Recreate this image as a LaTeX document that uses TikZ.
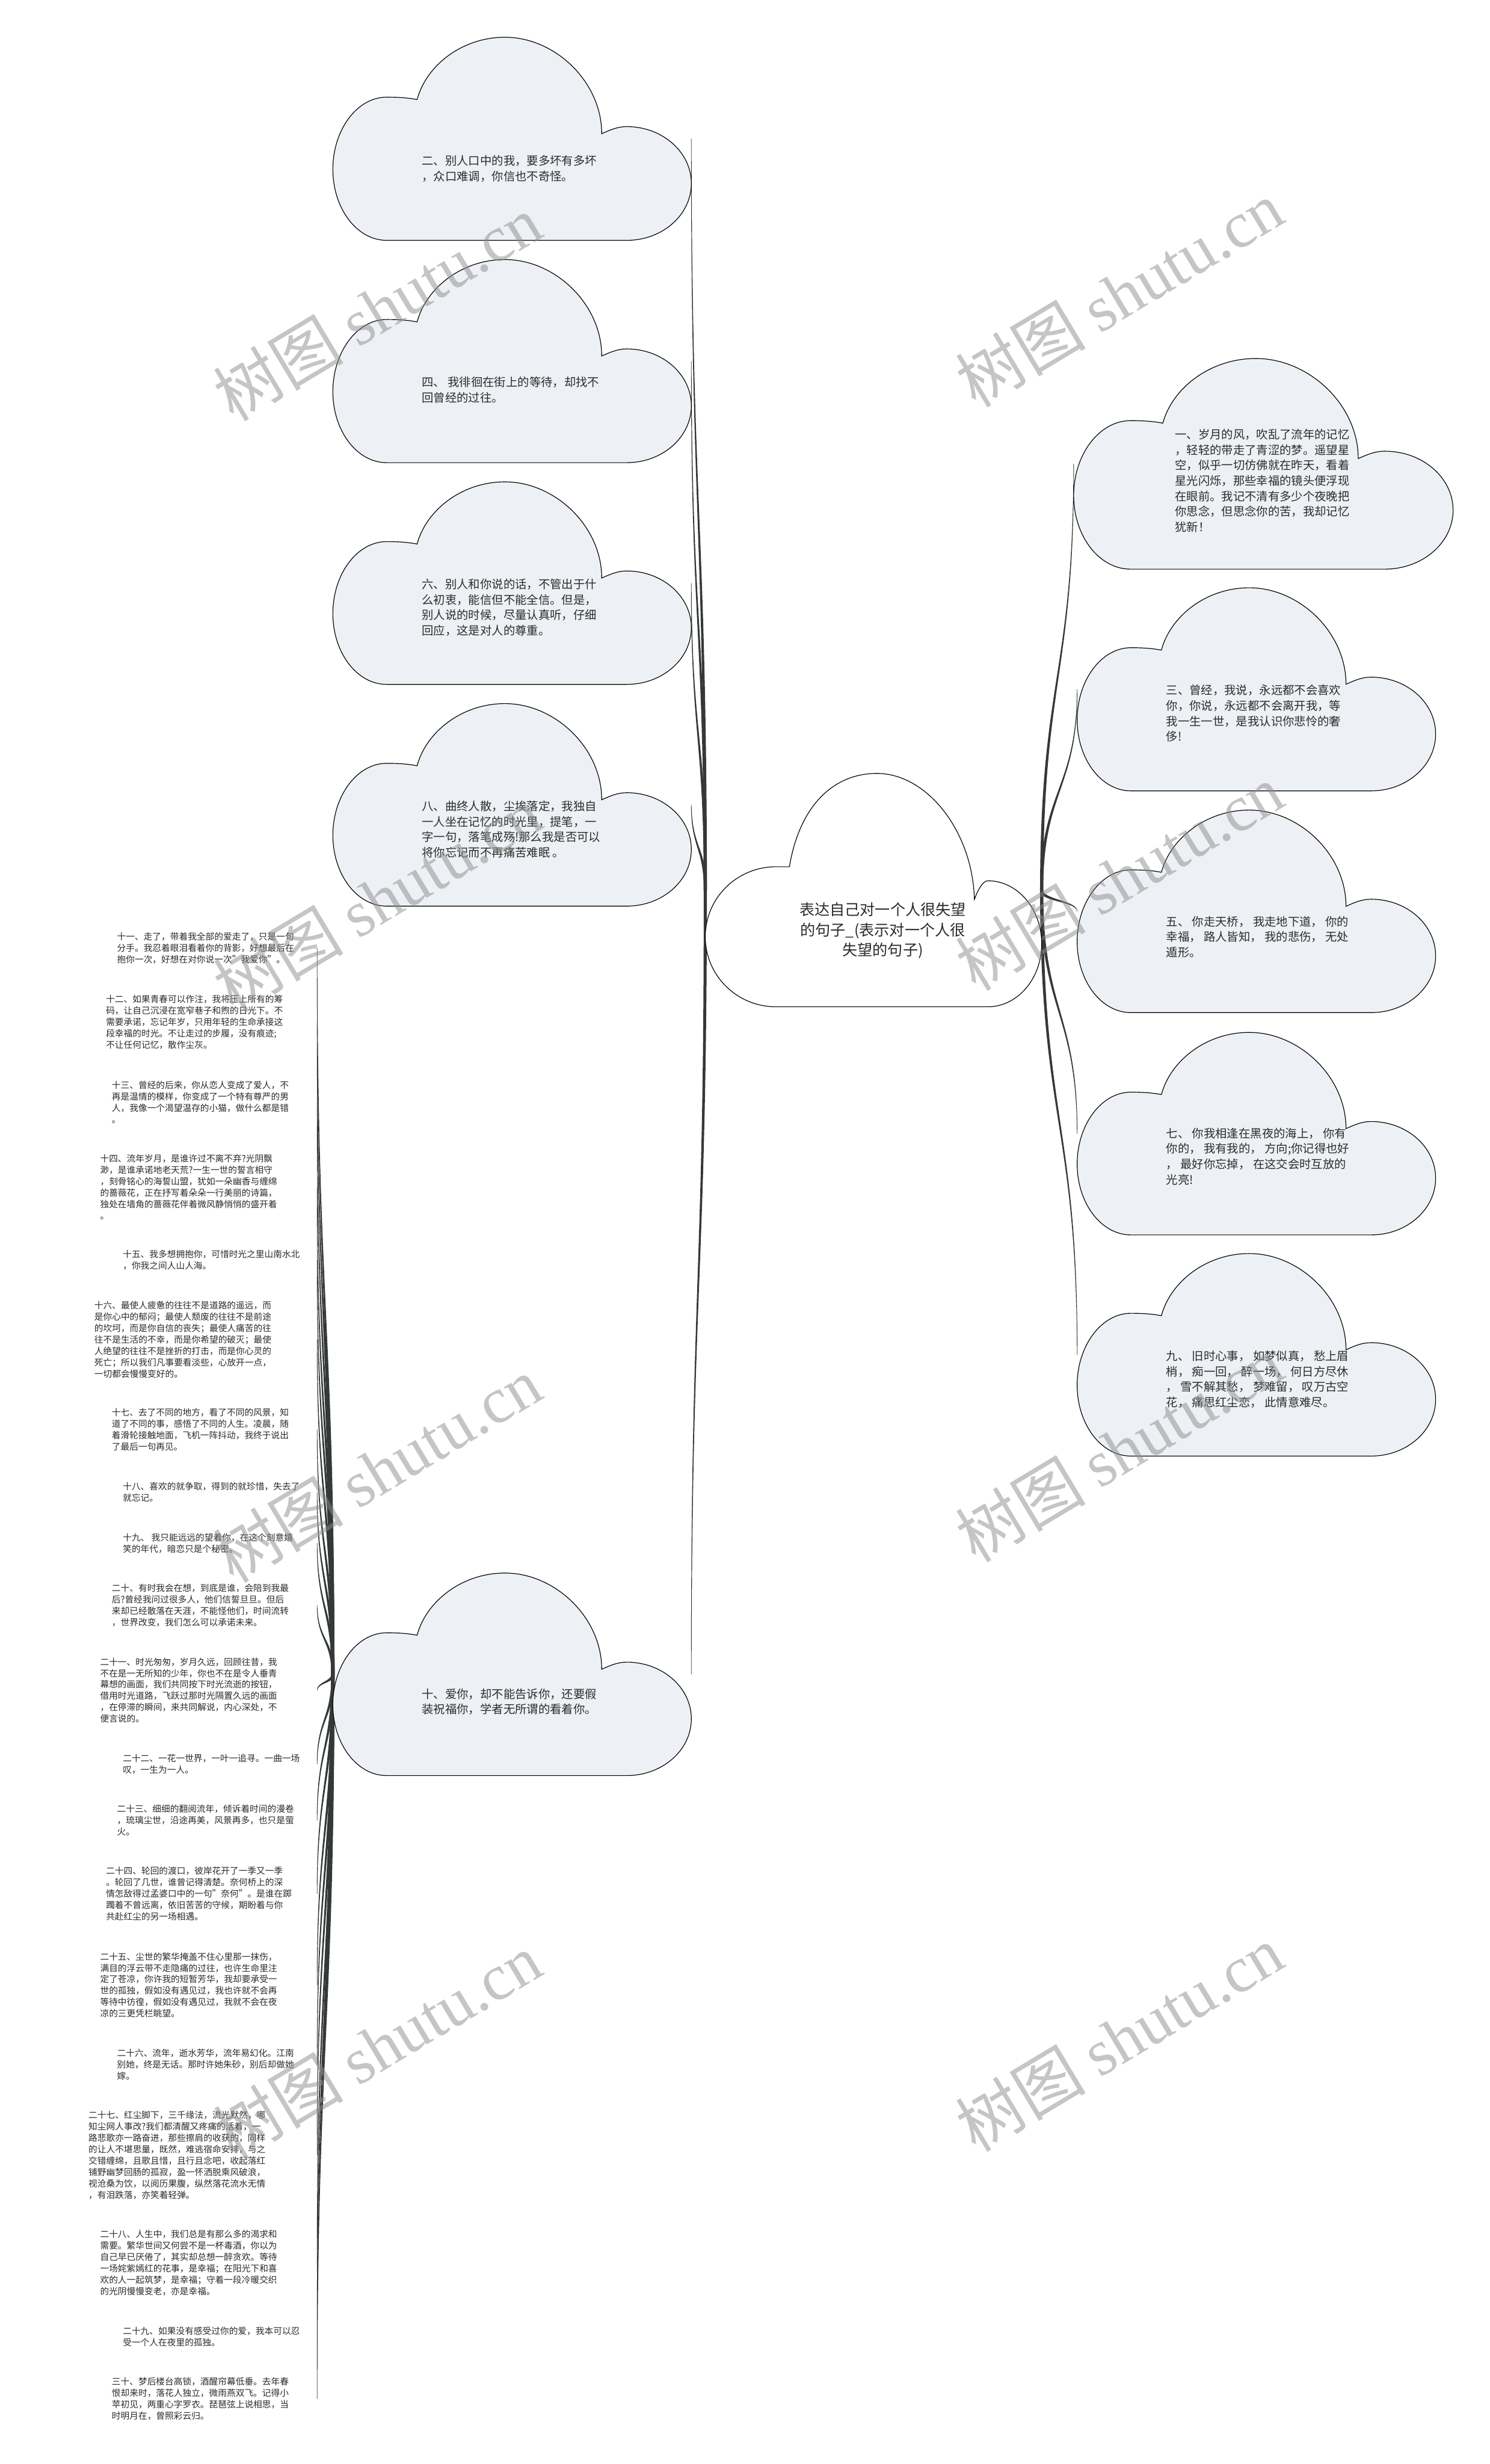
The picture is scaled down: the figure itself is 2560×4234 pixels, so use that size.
\documentclass[tikz,border=0pt]{standalone}
\usepackage{fontspec}
\setmainfont{Noto Sans CJK SC}
\newfontfamily\wmserif{Liberation Serif}
\usetikzlibrary{calc}
\definecolor{cloudfill}{HTML}{EDF0F4}
\definecolor{linkc}{HTML}{343936}
\definecolor{txt}{HTML}{2B2B2B}
\definecolor{wmg}{HTML}{8C8C8C}
\pgfdeclarelayer{bg}
\pgfsetlayers{bg,main}

% small cloud outline: name, x0, y0, W, H
\newcommand\smallcloud[5]{%
  \begin{scope}[shift={(#2,#3)},xscale=#4,yscale=#5]
    \filldraw[cloudline,fill=cloudfill] (0.15,1) .. controls (0.067,1) and (0,0.843) .. (0,0.65)
      .. controls (0,0.457) and (0.067,0.295) .. (0.15,0.295)
      .. controls (0.19,0.295) and (0.215,0.30) .. (0.235,0.307)
      .. controls (0.26,0.14) and (0.36,0) .. (0.48,0)
      .. controls (0.62,0) and (0.75,0.22) .. (0.75,0.475)
      .. controls (0.775,0.455) and (0.795,0.44) .. (0.82,0.44)
      .. controls (0.919,0.44) and (1,0.565) .. (1,0.72)
      .. controls (1,0.875) and (0.919,1) .. (0.82,1) -- cycle;
  \end{scope}
  \coordinate (#1-w) at (#2,{#3+#5/2});
  \coordinate (#1-e) at ({#2+#4},{#3+#5/2});
}

% tapered connector from parent #1 to child #2
\newcommand\brush[2]{%
  \begin{pgfonlayer}{bg}
  \fill[linkc] let \p1=(#1), \p2=(#2), \p3=($(#1)!0.5!(#2)$),
      \n1={atan2(\y2-\y1,\x2-\x1)+90}, \n2={\n1+180} in
    ($(\x1,\y1)+(\n1:2.8pt)$) .. controls ($(\x1,\y3)+(\n1:2pt)$) and ($(\x2,\y3)+(\n1:1.1pt)$) .. ($(\x2,\y2)+(\n1:0.4pt)$)
    -- ($(\x2,\y2)+(\n2:0.4pt)$) .. controls ($(\x2,\y3)+(\n2:1.1pt)$) and ($(\x1,\y3)+(\n2:2pt)$) .. ($(\x1,\y1)+(\n2:2.8pt)$) -- cycle;
  \end{pgfonlayer}
}

% leaf text: id, x, y, text
\newcommand\leaf[4]{%
  \node[leaftext] (t#1) at (#2,#3) {#4};
  \coordinate (e#1) at (545,#3);
  \brush{c10-w}{e#1}
}

\begin{document}
\begin{tikzpicture}[x=1pt,y=-1pt,
  cloudline/.style={draw=black,line width=1.2pt},
  cloudtext/.style={font=\fontsize{20}{26.5}\selectfont,text=txt,align=left,inner sep=0pt,anchor=west},
  roottext/.style={font=\fontsize{26}{34.5}\selectfont,text=txt,align=center,inner sep=0pt},
  leaftext/.style={font=\fontsize{15.2}{19.6}\selectfont,text=txt,align=left,inner sep=0pt,anchor=west},
  wmark/.style={font=\fontsize{112}{112}\selectfont,text=wmg,text opacity=0.5,rotate=31,inner sep=0pt}]
\begin{pgfonlayer}{bg}
\fill[white] (0,0) rectangle (2560,4234);
\end{pgfonlayer}
\useasboundingbox (0,0) rectangle (2560,4234);

% ---------- root cloud ----------
\begin{scope}[shift={(1212,1329)},xscale=578,yscale=401]
  \filldraw[cloudline,fill=white] (0.21,1) .. controls (0.094,1) and (0,0.866) .. (0,0.70)
    .. controls (0,0.534) and (0.094,0.40) .. (0.21,0.40)
    .. controls (0.225,0.40) and (0.24,0.40) .. (0.25,0.40)
    .. controls (0.28,0.14) and (0.38,0) .. (0.51,0)
    .. controls (0.66,0) and (0.795,0.25) .. (0.80,0.54)
    .. controls (0.81,0.50) and (0.825,0.46) .. (0.84,0.46)
    .. controls (0.928,0.46) and (1,0.58) .. (1,0.73)
    .. controls (1,0.88) and (0.928,1) .. (0.84,1) -- cycle;
\end{scope}
\coordinate (root-w) at (1212,1530);
\coordinate (root-e) at (1790,1530);
\node[roottext] (root) at (1517,1599) {表达自己对一个人很失望\\的句子\_(表示对一个人很\\失望的句子)};

% ---------- left clouds ----------
\smallcloud{c2}{572}{64}{616}{349}
\node[cloudtext] (t2) at (725,290) {二、别人口中的我，要多坏有多坏\\，众口难调，你信也不奇怪。};
\smallcloud{c4}{572}{446}{616}{349}
\node[cloudtext] (t4) at (725,670) {四、 我徘徊在街上的等待，却找不\\回曾经的过往。};
\smallcloud{c6}{572}{828}{616}{348}
\node[cloudtext] (t6) at (725,1044) {六、别人和你说的话，不管出于什\\么初衷，能信但不能全信。但是，\\别人说的时候，尽量认真听，仔细\\回应，这是对人的尊重。};
\smallcloud{c8}{572}{1209}{616}{348}
\node[cloudtext] (t8) at (725,1425) {八、曲终人散，尘埃落定，我独自\\一人坐在记忆的时光里，提笔，一\\字一句，落笔成殇!那么我是否可以\\将你忘记而不再痛苦难眠 。};
\smallcloud{c10}{572}{2703}{616}{348}
\node[cloudtext] (t10) at (725,2924) {十、爱你，却不能告诉你，还要假\\装祝福你，学者无所谓的看着你。};

% ---------- right clouds ----------
\smallcloud{c1}{1845}{616}{652}{362}
\node[cloudtext] (t1) at (2019,826) {一、岁月的风，吹乱了流年的记忆\\，轻轻的带走了青涩的梦。遥望星\\空，似乎一切仿佛就在昨天，看着\\星光闪烁，那些幸福的镜头便浮现\\在眼前。我记不清有多少个夜晚把\\你思念，但思念你的苦，我却记忆\\犹新！};
\smallcloud{c3}{1851}{1010}{616}{349}
\node[cloudtext] (t3) at (2004,1226) {三、曾经，我说，永远都不会喜欢\\你，你说，永远都不会离开我，等\\我一生一世，是我认识你悲怜的奢\\侈!};
\smallcloud{c5}{1851}{1392}{616}{348}
\node[cloudtext] (t5) at (2004,1610) {五、 你走天桥， 我走地下道， 你的\\幸福， 路人皆知， 我的悲伤， 无处\\遁形。};
\smallcloud{c7}{1851}{1774}{616}{348}
\node[cloudtext] (t7) at (2004,1987) {七、 你我相逢在黑夜的海上， 你有\\你的， 我有我的， 方向;你记得也好\\， 最好你忘掉， 在这交会时互放的\\光亮!};
\smallcloud{c9}{1851}{2154}{616}{348}
\node[cloudtext] (t9) at (2004,2370) {九、 旧时心事， 如梦似真， 愁上眉\\梢， 痴一回， 醉一场， 何日方尽休\\， 雪不解其愁， 梦难留， 叹万古空\\花， 痛思红尘恋， 此情意难尽。};

% ---------- main connectors ----------
\brush{root-w}{c2-e}
\brush{root-w}{c4-e}
\brush{root-w}{c6-e}
\brush{root-w}{c8-e}
\brush{root-w}{c10-e}
\brush{root-e}{c1-w}
\brush{root-e}{c3-w}
\brush{root-e}{c5-w}
\brush{root-e}{c7-w}
\brush{root-e}{c9-w}

% ---------- leaves of 十 ----------
\leaf{11}{201}{1629}{十一、走了，带着我全部的爱走了，只是一句\\分手。我忍着眼泪看着你的背影，好想最后在\\抱你一次，好想在对你说一次"我爱你"。}
\leaf{12}{182}{1756}{十二、如果青春可以作注，我将压上所有的筹\\码，让自己沉浸在宽窄巷子和煦的日光下。不\\需要承诺，忘记年岁，只用年轻的生命承接这\\段幸福的时光。不让走过的步履，没有痕迹;\\不让任何记忆，散作尘灰。}
\leaf{13}{192}{1894}{十三、曾经的后来，你从恋人变成了爱人，不\\再是温情的模样，你变成了一个特有尊严的男\\人，我像一个渴望温存的小猫，做什么都是错\\。}
\leaf{14}{172}{2039.5}{十四、流年岁月，是谁许过不离不弃?光阴飘\\渺，是谁承诺地老天荒?一生一世的誓言相守\\，刻骨铭心的海誓山盟，犹如一朵幽香与缠绵\\的蔷薇花，正在抒写着朵朵一行美丽的诗篇，\\独处在墙角的蔷薇花伴着微风静悄悄的盛开着\\。}
\leaf{15}{211}{2165}{十五、我多想拥抱你，可惜时光之里山南水北\\，你我之间人山人海。}
\leaf{16}{162}{2301.5}{十六、最使人疲惫的往往不是道路的遥远，而\\是你心中的郁闷；最使人颓废的往往不是前途\\的坎坷，而是你自信的丧失；最使人痛苦的往\\往不是生活的不幸，而是你希望的破灭；最使\\人绝望的往往不是挫折的打击，而是你心灵的\\死亡；所以我们凡事要看淡些，心放开一点，\\一切都会慢慢变好的。}
\leaf{17}{192}{2456.5}{十七、去了不同的地方，看了不同的风景，知\\道了不同的事，感悟了不同的人生。凌晨，随\\着滑轮接触地面，飞机一阵抖动，我终于说出\\了最后一句再见。}
\leaf{18}{211}{2564}{十八、喜欢的就争取，得到的就珍惜，失去了\\就忘记。}
\leaf{19}{211}{2651.5}{十九、 我只能远远的望着你，在这个刻意嬉\\笑的年代，暗恋只是个秘密。}
\leaf{20}{192}{2758.5}{二十、有时我会在想，到底是谁，会陪到我最\\后?曾经我问过很多人，他们信誓旦旦。但后\\来却已经散落在天涯，不能怪他们，时间流转\\，世界改变，我们怎么可以承诺未来。}
\leaf{21}{172}{2904.5}{二十一、时光匆匆，岁月久远，回顾往昔，我\\不在是一无所知的少年，你也不在是令人垂青\\幕想的画面，我们共同按下时光流逝的按钮，\\借用时光道路，飞跃过那时光隔置久远的画面\\，在停滞的瞬间，来共同解说，内心深处，不\\便言说的。}
\leaf{22}{211}{3031.5}{二十二、一花一世界，一叶一追寻。一曲一场\\叹，一生为一人。}
\leaf{23}{201}{3128}{二十三、细细的翻阅流年，倾诉着时间的漫卷\\，琉璃尘世，沿途再美，风景再多，也只是萤\\火。}
\leaf{24}{182}{3254}{二十四、轮回的渡口，彼岸花开了一季又一季\\。轮回了几世，谁曾记得清楚。奈何桥上的深\\情怎敌得过孟婆口中的一句"奈何"。是谁在踯\\躅着不曾远离，依旧苦苦的守候，期盼着与你\\共赴红尘的另一场相遇。}
\leaf{25}{172}{3411}{二十五、尘世的繁华掩盖不住心里那一抹伤，\\满目的浮云带不走隐痛的过往，也许生命里注\\定了苍凉，你许我的短暂芳华，我却要承受一\\世的孤独，假如没有遇见过，我也许就不会再\\等待中彷徨，假如没有遇见过，我就不会在夜\\凉的三更凭栏眺望。}
\leaf{26}{201}{3547.5}{二十六、流年，逝水芳华，流年易幻化。江南\\别她，终是无话。那时许她朱砂，别后却做她\\嫁。}
\leaf{27}{152}{3703}{二十七、红尘脚下，三千缘法，流光默然，哪\\知尘网人事改?我们都清醒又疼痛的活着，一\\路悲歌亦一路奋进，那些擦肩的收获的，同样\\的让人不堪思量，既然，难逃宿命安排，与之\\交错缠绵，且歌且惜，且行且念吧，收起落红\\铺野幽梦回肠的孤寂，盈一怀洒脱乘风破浪，\\视沧桑为饮，以阅历果腹，纵然落花流水无情\\，有泪跌落，亦笑着轻弹。}
\leaf{28}{172}{3888.5}{二十八、人生中，我们总是有那么多的渴求和\\需要。繁华世间又何尝不是一杯毒酒，你以为\\自己早已厌倦了，其实却总想一醉贪欢。等待\\一场姹紫嫣红的花事，是幸福；在阳光下和喜\\欢的人一起筑梦，是幸福；守着一段冷暖交织\\的光阴慢慢变老，亦是幸福。}
\leaf{29}{211}{4015.5}{二十九、如果没有感受过你的爱，我本可以忍\\受一个人在夜里的孤独。}
\leaf{30}{192}{4122}{三十、梦后楼台高锁，酒醒帘幕低垂。去年春\\恨却来时，落花人独立，微雨燕双飞。记得小\\苹初见，两重心字罗衣。琵琶弦上说相思，当\\时明月在，曾照彩云归。}

% ---------- watermarks ----------
\node[wmark] (wm1) at (648,529) {树图 {\wmserif shutu.cn}};
\node[wmark] (wm2) at (1923,505) {树图 {\wmserif shutu.cn}};
\node[wmark] (wm3) at (648,1545) {树图 {\wmserif shutu.cn}};
\node[wmark] (wm4) at (1923,1507) {树图 {\wmserif shutu.cn}};
\node[wmark] (wm5) at (648,2525) {树图 {\wmserif shutu.cn}};
\node[wmark] (wm6) at (1923,2490) {树图 {\wmserif shutu.cn}};
\node[wmark] (wm7) at (648,3516) {树图 {\wmserif shutu.cn}};
\node[wmark] (wm8) at (1923,3502) {树图 {\wmserif shutu.cn}};
\end{tikzpicture}
\end{document}
